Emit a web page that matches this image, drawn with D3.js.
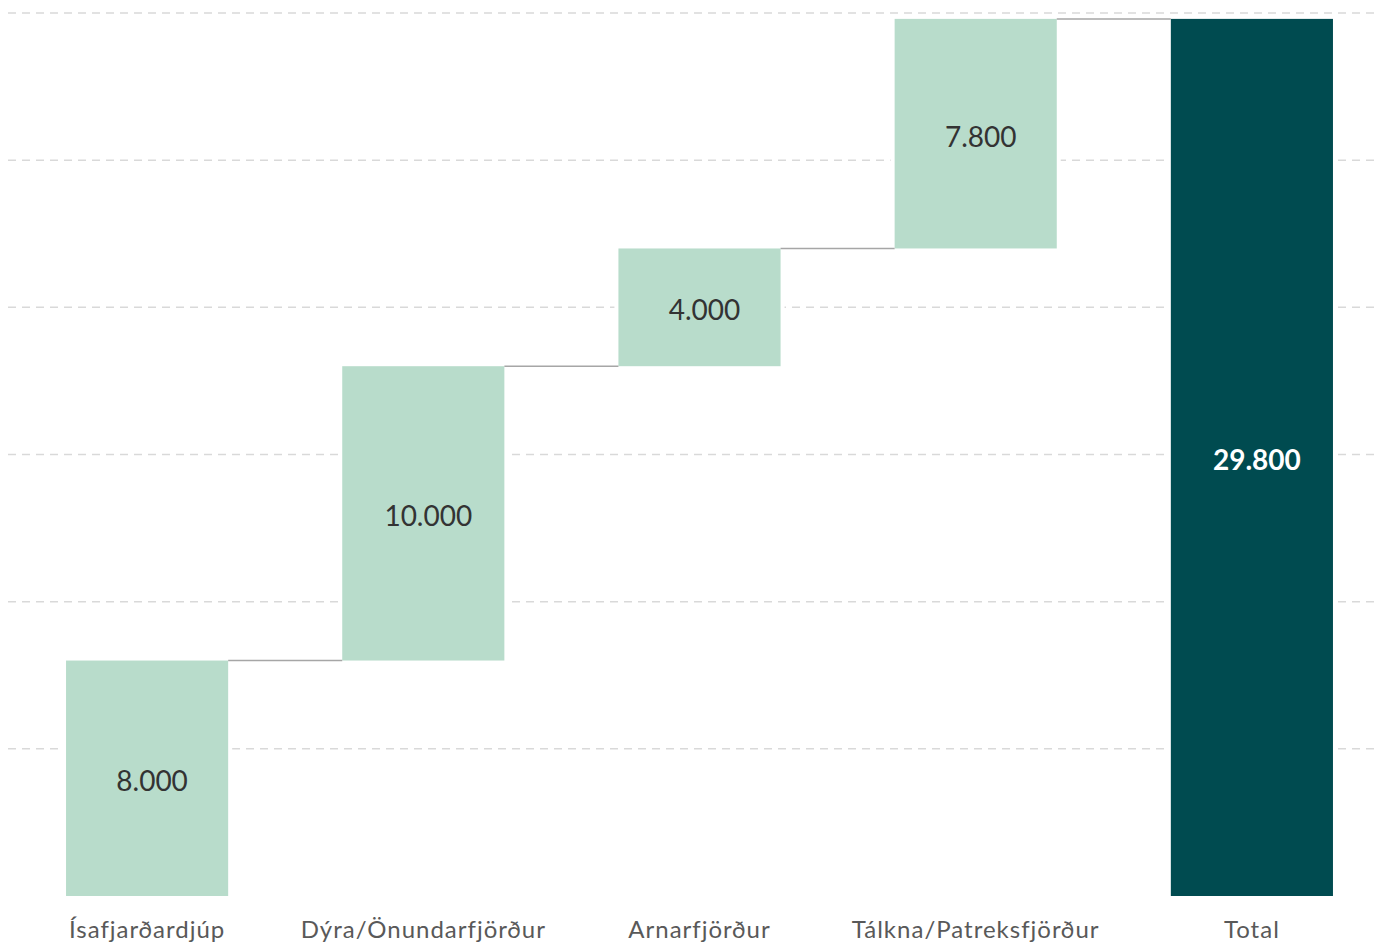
<!DOCTYPE html>
<html>
<head>
<meta charset="utf-8">
<script src="https://cdn.jsdelivr.net/npm/d3@7"></script>
<style>
  body { margin: 0; background: #fff; }
  text { font-family: 'Lato', 'Open Sans', sans-serif; }
</style>
</head>
<body>
<script>
let categories = ['Ísafjarðardjúp', 'Dýra/Önundarfjörður', 'Arnarfjörður', 'Tálkna/Patreksfjörður']
let values = [8000, 10000, 4000, 7800]
let total_label = 'Total'
let y_ticks = [5000, 10000, 15000, 20000, 25000, 30000]

let width = 1381
let height = 942

let fmt = v => d3.format(',')(v).replace(/,/g, '.')

// running sums for the waterfall
let steps = []
let acc = 0
values.forEach((v, i) => {
    steps.push({name: categories[i], start: acc, end: acc + v, value: v, total: false})
    acc += v
})
steps.push({name: total_label, start: 0, end: acc, value: acc, total: true})

let svg = d3.select('body').append('svg')
    .attr('width', width)
    .attr('height', height)

let xScale = d3.scaleBand()
    .domain(steps.map(d => d.name))
    .range([9, 1390])
    .paddingInner(0.413)
    .paddingOuter(0.2065)

let yScale = d3.scaleLinear()
    .domain([0, 30000])
    .range([896, 13])

// grid
svg.append('g').selectAll('line')
    .data(y_ticks)
    .join('line')
    .attr('x1', 8)
    .attr('x2', 1376)
    .attr('y1', d => yScale(d))
    .attr('y2', d => yScale(d))
    .style('stroke', '#d9d9d9')
    .style('stroke-width', 1.5)
    .style('stroke-dasharray', '8,6')

// white outline cuts the grid next to each bar
svg.append('g').selectAll('rect')
    .data(steps)
    .join('rect')
    .attr('x', d => xScale(d.name))
    .attr('width', xScale.bandwidth())
    .attr('y', d => yScale(d.end))
    .attr('height', d => yScale(d.start) - yScale(d.end))
    .style('fill', '#fff')
    .style('stroke', '#fff')
    .style('stroke-width', 8)

svg.append('g').selectAll('rect')
    .data(steps)
    .join('rect')
    .attr('x', d => xScale(d.name))
    .attr('width', xScale.bandwidth())
    .attr('y', d => yScale(d.end))
    .attr('height', d => yScale(d.start) - yScale(d.end))
    .style('fill', d => d.total ? '#004b50' : '#b8dccb')

// connectors
svg.append('g').selectAll('line')
    .data(steps.slice(0, -1))
    .join('line')
    .attr('x1', d => xScale(d.name) + xScale.bandwidth())
    .attr('x2', (d, i) => xScale(steps[i + 1].name))
    .attr('y1', d => yScale(d.end))
    .attr('y2', d => yScale(d.end))
    .style('stroke', '#a6a6a6')
    .style('stroke-width', 1.5)

// value labels
svg.append('g').selectAll('text')
    .data(steps)
    .join('text')
    .attr('text-anchor', 'middle')
    .attr('x', d => xScale(d.name) + xScale.bandwidth() / 2 + 5)
    .attr('y', d => (yScale(d.start) + yScale(d.end)) / 2 + 13)
    .style('font-size', '28px')
    .style('font-weight', d => d.total ? 'bold' : 'normal')
    .style('fill', d => d.total ? '#ffffff' : '#333333')
    .text(d => fmt(d.value))

// category labels
svg.append('g').selectAll('text')
    .data(steps)
    .join('text')
    .attr('text-anchor', 'middle')
    .attr('x', d => xScale(d.name) + xScale.bandwidth() / 2)
    .attr('y', 938)
    .style('font-size', '24px')
    .style('letter-spacing', '1px')
    .style('font-variant-ligatures', 'none')
    .style('fill', '#595959')
    .text(d => d.name)
</script>
</body>
</html>
